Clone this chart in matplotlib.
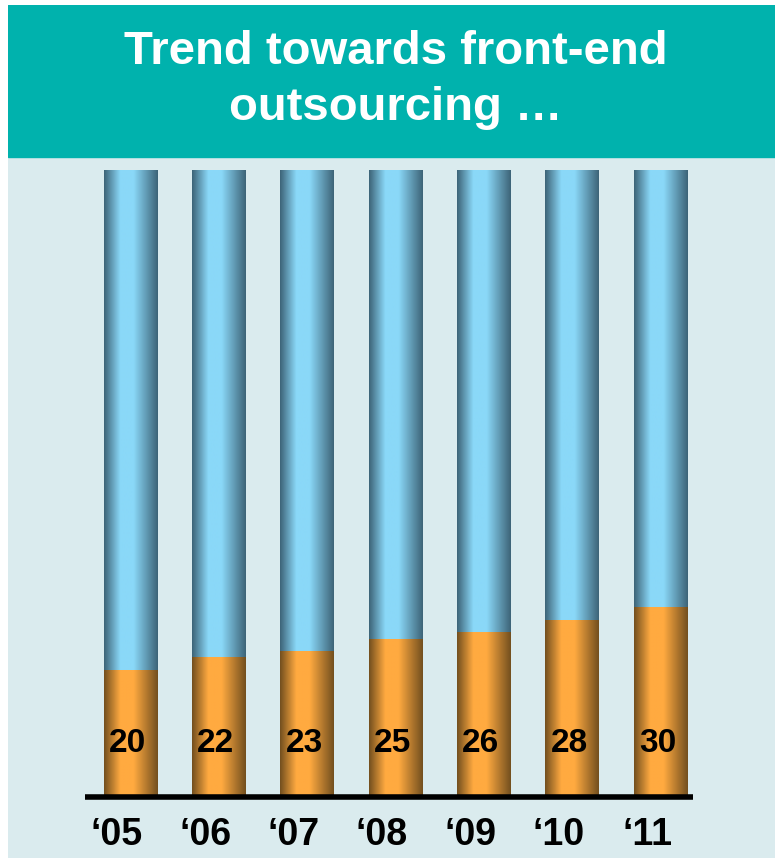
import numpy as np
import matplotlib
matplotlib.use('Agg')
from matplotlib import pyplot as plt
from matplotlib.patches import Rectangle
from matplotlib.colors import to_rgb

# data
years = ["\u201805", "\u201806", "\u201807", "\u201808", "\u201809", "\u201810", "\u201811"]
front_end = [20, 22, 23, 25, 26, 28, 30]
total = [100, 100, 100, 100, 100, 100, 100]

plt.rcParams['font.family'] = ['Liberation Sans', 'DejaVu Sans']

fig = plt.figure(figsize=(7.75, 8.6), dpi=100)
W, H = 775, 860

def px(x0, y0, x1, y1):
    # pixel box (top-left origin) -> figure fraction
    return [x0 / W, 1 - y1 / H, (x1 - x0) / W, (y1 - y0) / H]

# background panel + title banner
bg = fig.add_axes(px(8, 5, 775, 858))
bg.set_xlim(0, 1); bg.set_ylim(0, 1); bg.axis('off')
bg.add_patch(Rectangle((0, 0), 1, 1, color='#DAEBEE', zorder=0))
bg.add_patch(Rectangle((0, 1 - 152 / 853), 1, 152 / 853, color='#00B2AD', zorder=1))
fig.text(396 / W, 1 - 52 / H, "Trend towards front-end", color='white', fontsize=34,
         fontweight='bold', ha='center', va='center')
fig.text(396 / W, 1 - 108 / H, "outsourcing \u2026", color='white', fontsize=34,
         fontweight='bold', ha='center', va='center')

ax = fig.add_axes(px(85, 170, 693, 795))
ax.set_xlim(-0.51, 6.37)
ax.set_ylim(0, 100)
ax.axis('off')

def shade(c_edge, c_mid):
    t = np.linspace(0, 1, 64)
    k = np.interp(t, [0, 0.3, 0.55, 1], [0, 1, 1, 0])
    e, m = np.array(to_rgb(c_edge)), np.array(to_rgb(c_mid))
    return (e[None, :] * (1 - k[:, None]) + m[None, :] * k[:, None])[None, :, :]

orange = shade('#74501F', '#FFAA40')
blue = shade('#3E6579', '#8AD8F8')

bw = 0.6
for i, (v, tot) in enumerate(zip(front_end, total)):
    x0, x1 = i - bw / 2, i + bw / 2
    ax.imshow(orange, extent=(x0, x1, 0, v), aspect='auto', interpolation='bilinear', zorder=2)
    ax.imshow(blue, extent=(x0, x1, v, tot), aspect='auto', interpolation='bilinear', zorder=2)
    ax.text(i - 0.03, 8.2, str(v), ha='center', va='center', fontsize=24, fontweight='bold',
            color='black', zorder=3)
    ax.text(i - 0.15, -6.4, years[i], ha='center', va='center', fontsize=27, fontweight='bold',
            color='black', clip_on=False)

ax.set_xlim(-0.51, 6.37)
ax.set_ylim(0, 100)
ax.plot([-0.51, 6.37], [-0.3, -0.3], color='black', lw=4, solid_capstyle='butt',
        zorder=4, clip_on=False)

fig.savefig('out.png', dpi=100)
